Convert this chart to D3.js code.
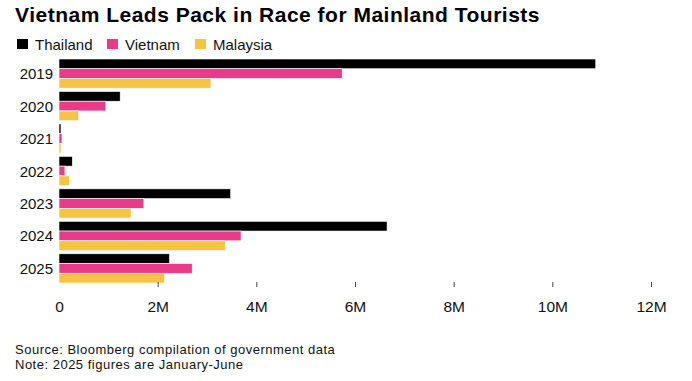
<!DOCTYPE html>
<html>
<head>
<meta charset="utf-8">
<script src="https://cdn.jsdelivr.net/npm/d3@7"></script>
<style>
  html, body { margin: 0; padding: 0; background: #fff; }
  svg { display: block; font-family: "Liberation Sans", Arial, sans-serif; }
</style>
</head>
<body>
<svg id="chart" width="692" height="381"></svg>
<script>
const years = ["2019", "2020", "2021", "2022", "2023", "2024", "2025"];
const seriesNames = ["Thailand", "Vietnam", "Malaysia"];
const thailand = [10.88e6, 1.24e6, 0.04e6, 0.27e6, 3.48e6, 6.65e6, 2.24e6];
const vietnam  = [5.74e6, 0.95e6, 0.06e6, 0.12e6, 1.72e6, 3.69e6, 2.70e6];
const malaysia = [3.08e6, 0.40e6, 0.04e6, 0.21e6, 1.46e6, 3.37e6, 2.14e6];
const tickValues = [0, 2e6, 4e6, 6e6, 8e6, 10e6, 12e6];
const tickLabels = ["0", "2M", "4M", "6M", "8M", "10M", "12M"];
const colors = ["#000000", "#ea3b8b", "#f6c445"];

const values = [thailand, vietnam, malaysia];
const svg = d3.select("#chart");

const x = d3.scaleLinear().domain([0, 12e6]).range([59, 651]);
const y = d3.scaleBand().domain(years).range([59, 283]).paddingInner(0.1).paddingOuter(0);
const ySub = d3.scaleBand().domain(seriesNames).range([0, y.bandwidth()]).padding(0);

// Title
svg.append("text")
  .attr("x", 15).attr("y", 21.5)
  .attr("font-size", 21).attr("font-weight", 700)
  .attr("letter-spacing", 0.5)
  .attr("fill", "#000")
  .text("Vietnam Leads Pack in Race for Mainland Tourists");

// Legend
const legendX = [17, 107, 195];
seriesNames.forEach((s, i) => {
  svg.append("rect").attr("x", legendX[i]).attr("y", 39).attr("width", 11).attr("height", 10).attr("fill", colors[i]);
  svg.append("text").attr("x", legendX[i] + 18).attr("y", 49.5)
    .attr("font-size", 15).attr("fill", "#111").text(s);
});

// Bars
const groups = svg.append("g").selectAll("g").data(years).join("g")
  .attr("transform", d => `translate(0,${y(d)})`);
groups.selectAll("rect")
  .data((d, i) => seriesNames.map((s, j) => ({ s, v: values[j][i], c: colors[j] })))
  .join("rect")
  .attr("x", x(0))
  .attr("y", d => ySub(d.s))
  .attr("width", d => x(d.v) - x(0))
  .attr("height", ySub.bandwidth())
  .attr("fill", d => d.c)
  .attr("stroke", "#fff")
  .attr("stroke-width", 0.6);

// Y labels
svg.append("g").selectAll("text").data(years).join("text")
  .attr("x", 53)
  .attr("y", d => y(d) + y.bandwidth() / 2 + 5.5)
  .attr("text-anchor", "end")
  .attr("font-size", 15).attr("fill", "#111")
  .text(d => d);

// X axis
const xAxis = d3.axisBottom(x)
  .tickValues(tickValues)
  .tickFormat((d, i) => tickLabels[i])
  .tickSize(5)
  .tickPadding(14);
const ax = svg.append("g").attr("transform", "translate(0,282)").call(xAxis);
ax.select(".domain").remove();
ax.selectAll(".tick line").attr("stroke", "#444").attr("stroke-width", 1)
  .attr("opacity", (d) => d === 0 ? 0 : 1);
ax.selectAll(".tick text").attr("font-size", 15.5).attr("fill", "#111")
  .attr("font-family", "Liberation Sans, Arial, sans-serif");

// Footer
svg.append("text").attr("x", 15).attr("y", 354).attr("font-size", 13).attr("letter-spacing", 0.5).attr("fill", "#111")
  .text("Source: Bloomberg compilation of government data");
svg.append("text").attr("x", 15).attr("y", 368.5).attr("font-size", 13).attr("letter-spacing", 0.5).attr("fill", "#111")
  .text("Note: 2025 figures are January-June");
</script>
</body>
</html>
